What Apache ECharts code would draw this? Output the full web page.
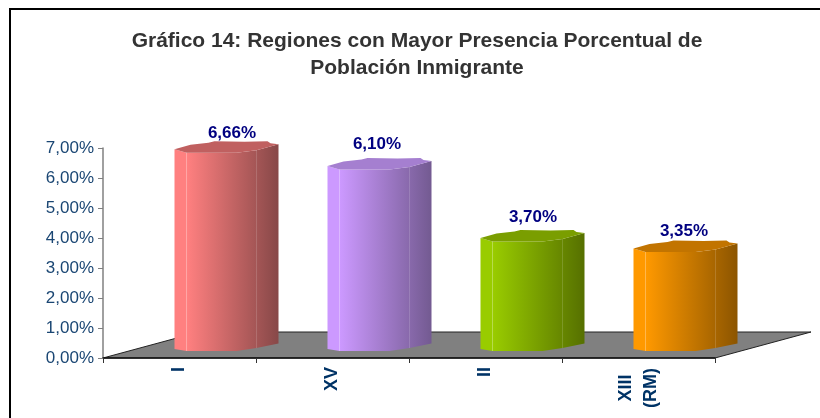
<!DOCTYPE html>
<html>
<head>
<meta charset="utf-8">
<style>
    html,body{margin:0;padding:0;background:#fff;}
    #chart{width:820px;height:418px;}
</style>
<script src="https://cdn.jsdelivr.net/npm/echarts@6/dist/echarts.min.js"></script>
</head>
<body>
<div id="chart"></div>
<script>
    var categories = ['I', 'XV', 'II', 'XIII\n(RM)'];
    var values = [6.66, 6.10, 3.70, 3.35];
    var valueLabels = ['6,66%', '6,10%', '3,70%', '3,35%'];
    var yTicks = ['0,00%', '1,00%', '2,00%', '3,00%', '4,00%', '5,00%', '6,00%', '7,00%'];

    // claro, oscuro, tapa
    var barColors = [
        ['#ff8080', '#874848', '#c06060'],
        ['#cc99ff', '#735a91', '#a57fd0'],
        ['#99cc00', '#567000', '#7a9e00'],
        ['#ff9900', '#8c5500', '#c27400']
    ];
    // desplazamiento de cada etiqueta respecto a la categoria
    var labelOffsets = [[52.5, -25], [44.5, -31], [47.5, -30], [45.5, -26]];

    // falso 3D
    var shiftX = -5, shiftY = -9, floorX = 96, floorY = -26;
    var frontX = [0, 12, 62, 82, 104];
    var topY = [0, 3.5, 3.5, 1, -5];
    var bottomY = [0, 2, 2, -1, -5.5];
    var backX = [104, 96, 93, 70, 40, 34, 16, 0];
    var backY = [-5, -6, -8, -7.5, -8, -6.5, -4.5, 0];

    function renderFloor(params, api) {
        var c = params.coordSys;
        var x0 = c.x, x1 = c.x + c.width, y = c.y + c.height;
        return {
            type: 'polygon',
            shape: {points: [[x0, y], [x1, y], [x1 + floorX, y + floorY], [x0 + floorX, y + floorY]]},
            style: {fill: '#808080', stroke: '#222', lineWidth: 1}
        };
    }

    function renderBar(params, api) {
        var i = api.value(0);
        var top = api.coord([i, api.value(1)]);
        var base = api.coord([i, 0]);
        var x = top[0] + shiftX, yTop = top[1] + shiftY, yBase = base[1] + shiftY;
        var col = barColors[i];
        var body = [], cap = [], k;
        for (k = 0; k < frontX.length; k++) {
            body.push([x + frontX[k], yTop + topY[k]]);
            cap.push([x + frontX[k], yTop + topY[k]]);
        }
        for (k = frontX.length - 1; k >= 0; k--) {
            body.push([x + frontX[k], yBase + bottomY[k]]);
        }
        for (k = 0; k < backX.length; k++) {
            cap.push([x + backX[k], yTop + backY[k]]);
        }
        var off = labelOffsets[i];
        return {
            type: 'group',
            children: [
                {
                    type: 'polygon',
                    shape: {points: body},
                    style: {
                        fill: new echarts.graphic.LinearGradient(0, 0, 1, 0, [
                            {offset: 0, color: col[0]},
                            {offset: 0.12, color: col[0]},
                            {offset: 1, color: col[1]}
                        ])
                    }
                },
                {type: 'polygon', shape: {points: cap}, style: {fill: col[2]}},
                {
                    type: 'line',
                    shape: {x1: x + frontX[1], y1: yTop + topY[1], x2: x + frontX[1], y2: yBase + bottomY[1]},
                    style: {stroke: 'rgba(255,255,255,0.3)', lineWidth: 1}
                },
                {
                    type: 'line',
                    shape: {x1: x + frontX[3], y1: yTop + topY[3], x2: x + frontX[3], y2: yBase + bottomY[3]},
                    style: {stroke: 'rgba(255,255,255,0.15)', lineWidth: 1}
                },
                {
                    type: 'text',
                    style: {
                        text: valueLabels[i],
                        x: top[0] + off[0],
                        y: top[1] + off[1],
                        align: 'center',
                        verticalAlign: 'middle',
                        fill: '#000080',
                        font: 'bold 17px "Liberation Sans", Arial, sans-serif'
                    }
                }
            ]
        };
    }

    var myChart = echarts.init(document.getElementById('chart'), null, {renderer: 'canvas'});

    var option = {
        animation: false,
        backgroundColor: '#fff',
        textStyle: {fontFamily: '"Liberation Sans", Arial, sans-serif'},
        title: {
            text: 'Gráfico 14: Regiones con Mayor Presencia Porcentual de\nPoblación Inmigrante',
            left: 412,
            top: 23,
            textAlign: 'center',
            textStyle: {color: '#333333', fontSize: 21, fontWeight: 'bold', lineHeight: 27}
        },
        graphic: [{
            type: 'polyline',
            shape: {points: [[10, 430], [10, 9], [830, 9]]},
            style: {fill: 'none', stroke: '#000', lineWidth: 2}
        }],
        grid: {left: 103, right: 105, top: 148, bottom: 60},
        xAxis: {
            type: 'category',
            data: categories,
            z: 3,
            axisLine: {lineStyle: {color: '#111', width: 1.5}},
            axisTick: {show: true, alignWithLabel: false, length: 5, lineStyle: {color: '#333'}},
            axisLabel: {
                rotate: 90,
                margin: 9,
                interval: 0,
                color: '#003366',
                fontSize: 18,
                fontWeight: 'bold',
                lineHeight: 25,
                formatter: function (v) {
                    if (v.indexOf('\n') < 0) return v;
                    return v.split('\n').map(function (s) { return '{c|' + s + '}'; }).join('\n');
                },
                rich: {c: {width: 42, align: 'center', color: '#003366', fontSize: 18, fontWeight: 'bold', lineHeight: 25}}
            }
        },
        yAxis: {
            type: 'value',
            min: 0,
            max: 7,
            interval: 1,
            z: 3,
            axisLine: {show: true, lineStyle: {color: '#808080', width: 1.5}},
            axisTick: {show: true, length: 5, lineStyle: {color: '#808080'}},
            splitLine: {show: false},
            axisLabel: {
                color: '#1a4673',
                fontSize: 17,
                margin: 9,
                padding: [2, 0, 0, 0],
                formatter: function (v) { return yTicks[Math.round(v)]; }
            }
        },
        series: [
            {
                type: 'custom',
                z: 1,
                silent: true,
                clip: false,
                renderItem: renderFloor,
                data: [[0, 0]]
            },
            {
                type: 'custom',
                z: 2,
                clip: false,
                renderItem: renderBar,
                encode: {x: 0, y: 1},
                data: values.map(function (v, i) { return [i, v]; })
            }
        ]
    };
    myChart.setOption(option, true);
</script>
</body>
</html>
